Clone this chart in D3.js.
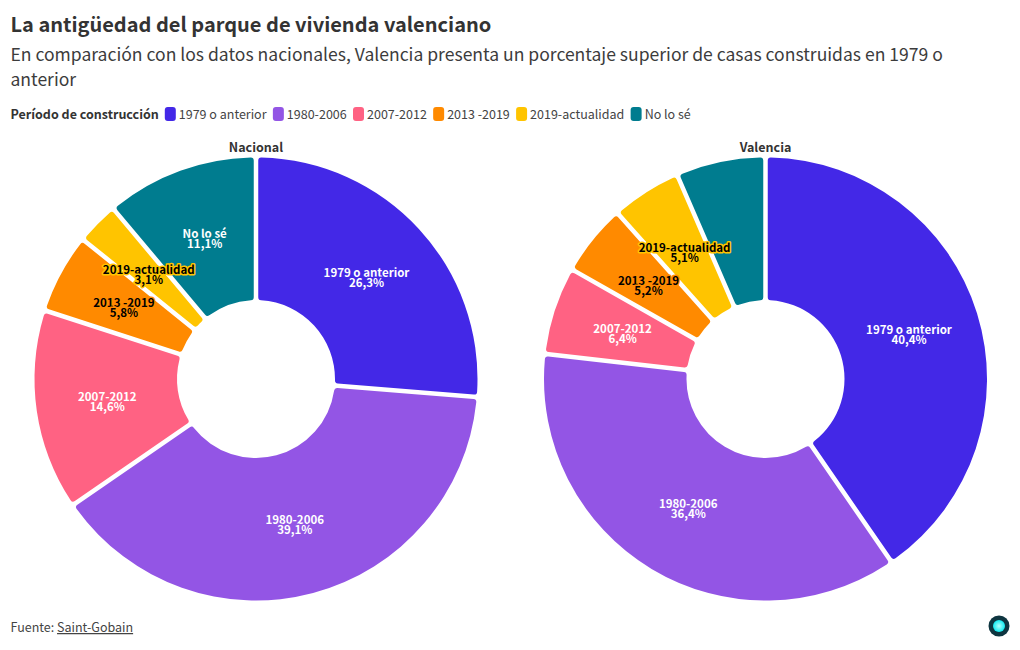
<!DOCTYPE html>
<html lang="es">
<head>
<meta charset="utf-8">
<script src="https://cdn.jsdelivr.net/npm/d3@7"></script>
<style>
  html, body { margin: 0; padding: 0; background: #fff; }
  svg { display: block; }
  text { font-family: "Noto Sans CJK JP", "Noto Sans", sans-serif; fill: #333; }
  .title { font-size: 20px; font-weight: 700; }
  .subtitle { font-size: 17.55px; fill: #3c3c3c; }
  .legend-title { font-size: 12.5px; font-weight: 700; }
  .legend-item { font-size: 12.5px; fill: #444; }
  .pie-title { font-size: 12.5px; font-weight: 700; }
  .slice-label { font-size: 11.5px; font-weight: 700; paint-order: stroke; stroke-width: 3px; stroke-linejoin: round; }
  .source { font-size: 12.5px; fill: #444; }
</style>
</head>
<body>
<svg id="chart" width="1020" height="650"></svg>
<script>
const categories = ['1979 o anterior', '1980-2006', '2007-2012', '2013 -2019', '2019-actualidad', 'No lo sé'];
const colors = ['#4328e7', '#9355e5', '#ff6283', '#ff8a00', '#ffc400', '#007c8f'];
const darkLabels = ['2013 -2019', '2019-actualidad'];

const nacionalValues = [26.3, 39.1, 14.6, 5.8, 3.1, 11.1];
const valenciaValues = [40.4, 36.4, 6.4, 5.2, 5.1, 6.5];
// Valencia's "No lo sé" slice has no label in the original
const hiddenLabels = { Valencia: ['No lo sé'] };

const subtitleLines = [
  'En comparación con los datos nacionales, Valencia presenta un porcentaje superior de casas construidas en 1979 o',
  'anterior'
];

const svg = d3.select('#chart');
const color = d3.scaleOrdinal().domain(categories).range(colors);

svg.append('text').attr('class', 'title').attr('x', 10.5).attr('y', 32)
  .text('La antigüedad del parque de vivienda valenciano');

svg.selectAll('text.subtitle')
  .data(subtitleLines)
  .enter()
  .append('text')
  .attr('class', 'subtitle')
  .attr('x', 10.5)
  .attr('y', (d, i) => 61 + i * 25)
  .text((d) => d);

// legend, laid out from the measured text widths
const legend = svg.append('g').attr('class', 'legend');
const legendTitle = legend.append('text').attr('class', 'legend-title')
  .attr('x', 10.5).attr('y', 119).text('Período de construcción');

let legendX = 10.5 + legendTitle.node().getComputedTextLength() + 6;
categories.forEach((c) => {
  legend.append('rect')
    .attr('x', legendX).attr('y', 107)
    .attr('width', 11).attr('height', 14)
    .attr('rx', 3)
    .attr('fill', color(c));
  const t = legend.append('text').attr('class', 'legend-item')
    .attr('x', legendX + 14).attr('y', 119).text(c);
  legendX += 14 + t.node().getComputedTextLength() + 6.3;
});

const outerR = 221.5;
const innerR = 79;
const pie = d3.pie().sort(null).value((d) => d.value);
const arc = d3.arc()
  .innerRadius(innerR)
  .outerRadius(outerR)
  .cornerRadius(3)
  .padAngle(4.5 / outerR)
  .padRadius(outerR);
const labelArc = d3.arc().innerRadius(innerR).outerRadius(outerR);
const pctFormat = (v) => d3.format('.1f')(v).replace('.', ',') + '%';

function drawDonut(name, values, cx, cy) {
  const rows = categories.map((c, i) => ({ category: c, value: values[i] }));
  const g = svg.append('g').attr('transform', `translate(${cx},${cy})`);
  const arcs = pie(rows);

  svg.append('text')
    .attr('class', 'pie-title')
    .attr('x', cx)
    .attr('y', 152)
    .attr('text-anchor', 'middle')
    .text(name);

  g.selectAll('path')
    .data(arcs)
    .enter()
    .append('path')
    .attr('d', arc)
    .attr('fill', (d) => color(d.data.category));

  const hidden = hiddenLabels[name] || [];
  const labels = g.selectAll('g.lbl')
    .data(arcs.filter((d) => hidden.indexOf(d.data.category) < 0))
    .enter()
    .append('g')
    .attr('class', 'lbl')
    .attr('transform', (d) => `translate(${labelArc.centroid(d)})`);

  labels.each(function (d) {
    const dark = darkLabels.indexOf(d.data.category) > -1;
    const lines = [d.data.category, pctFormat(d.data.value)];
    d3.select(this).selectAll('text')
      .data(lines)
      .enter()
      .append('text')
      .attr('class', 'slice-label')
      .attr('text-anchor', 'middle')
      .attr('y', (l, i) => i * 10)
      .style('fill', dark ? '#000' : '#fff')
      .style('stroke', color(d.data.category))
      .text((l) => l);
  });
}

drawDonut('Nacional', nacionalValues, 256, 379);
drawDonut('Valencia', valenciaValues, 765.5, 379);

// source line
const source = svg.append('text').attr('class', 'source').attr('x', 10.5).attr('y', 632);
source.append('tspan').text('Fuente: ');
source.append('tspan').attr('text-decoration', 'underline').text('Saint-Gobain');

// small round logo in the corner
const grad = svg.append('defs').append('radialGradient').attr('id', 'logo-glow');
grad.append('stop').attr('offset', '0%').attr('stop-color', '#b5fffb');
grad.append('stop').attr('offset', '100%').attr('stop-color', '#10eaf0');
svg.append('circle').attr('cx', 999).attr('cy', 626).attr('r', 10.5).attr('fill', '#0e3540');
svg.append('circle').attr('cx', 999).attr('cy', 626).attr('r', 6).attr('fill', 'url(#logo-glow)');
</script>
</body>
</html>
